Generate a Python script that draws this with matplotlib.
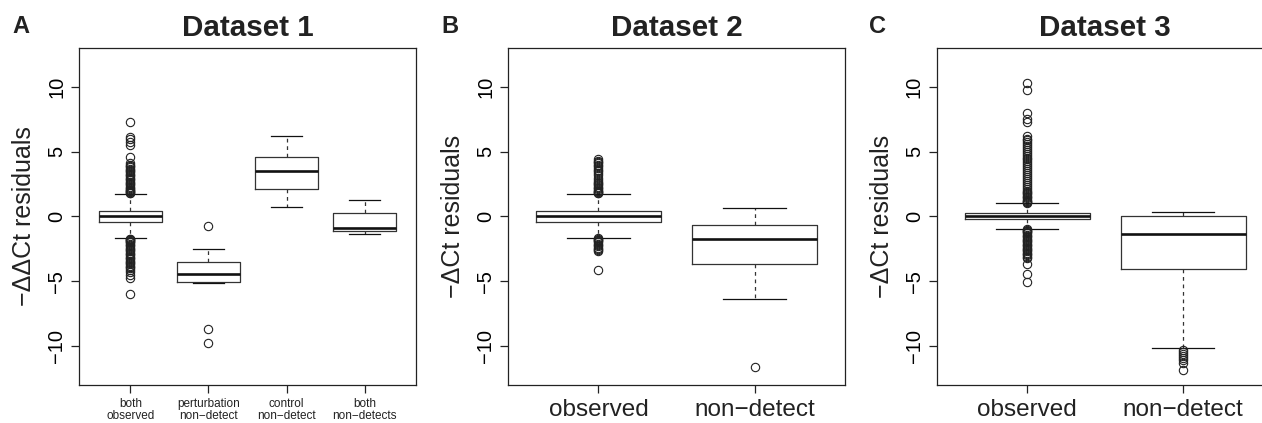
import matplotlib
matplotlib.use("Agg")
import matplotlib.pyplot as plt

plt.rcParams['font.family'] = ['Liberation Sans', 'DejaVu Sans']

# ---------------- data ----------------
titles = ["Dataset 1", "Dataset 2", "Dataset 3"]
panel_letters = ["A", "B", "C"]
ylabels = ["\u2212\u0394\u0394Ct residuals", "\u2212\u0394Ct residuals", "\u2212\u0394Ct residuals"]

cats_1 = ["both\nobserved", "perturbation\nnon\u2212detect", "control\nnon\u2212detect", "both\nnon\u2212detects"]
med_1 = [0.0, -4.44, 3.54, -0.87]
q1_1 = [-0.41, -5.05, 2.10, -1.13]
q3_1 = [0.46, -3.54, 4.62, 0.26]
wlo_1 = [-1.67, -5.10, 0.77, -1.33]
whi_1 = [1.77, -2.51, 6.18, 1.28]
fliers_1 = [
    [1.80, 1.85, 1.90, 1.95, 2.00, 2.05, 2.10, 2.20, 2.30, 2.40, 2.50, 2.60, 2.70, 2.80,
     2.90, 3.00, 3.10, 3.20, 3.30, 3.40, 3.50, 3.60, 3.70, 3.80, 3.90, 4.00, 4.15, 4.60,
     5.55, 5.75, 5.95, 6.10, 7.30,
     -1.70, -1.75, -1.80, -1.85, -1.90, -1.95, -2.00, -2.10, -2.20, -2.30, -2.40, -2.50,
     -2.60, -2.70, -2.80, -2.90, -3.00, -3.10, -3.20, -3.30, -3.40, -3.50, -3.60, -3.70,
     -3.80, -3.90, -4.00, -4.10, -4.30, -4.50, -4.75, -5.95],
    [-0.72, -8.67, -9.77],
    [],
    [],
]

cats_2 = ["observed", "non\u2212detect"]
med_2 = [0.0, -1.74]
q1_2 = [-0.41, -3.67]
q3_2 = [0.46, -0.69]
wlo_2 = [-1.64, -6.36]
whi_2 = [1.74, 0.62]
fliers_2 = [
    [1.78, 1.85, 1.90, 1.95, 2.00, 2.10, 2.20, 2.30, 2.40, 2.50, 2.60, 2.70, 2.85, 3.00,
     3.20, 3.35, 3.50, 3.60, 3.75, 3.90, 4.00, 4.10, 4.20, 4.30, 4.45,
     -1.68, -1.75, -1.80, -1.85, -1.90, -2.00, -2.10, -2.20, -2.30, -2.40, -2.50, -2.60,
     -2.70, -4.10],
    [-11.60],
]

cats_3 = ["observed", "non\u2212detect"]
med_3 = [0.0, -1.33]
q1_3 = [-0.20, -4.05]
q3_3 = [0.28, 0.0]
wlo_3 = [-0.97, -10.13]
whi_3 = [1.05, 0.38]
fliers_3 = [
    [1.05, 1.10, 1.15, 1.20, 1.30, 1.40, 1.50, 1.60, 1.70, 1.80, 1.90, 2.00, 2.15, 2.30,
     2.45, 2.60, 2.75, 2.90, 3.05, 3.20, 3.35, 3.50, 3.65, 3.80, 3.95, 4.10, 4.25, 4.40,
     4.55, 4.70, 4.85, 5.00, 5.15, 5.30, 5.45, 5.60, 5.75, 5.90, 6.00, 6.20, 7.30, 7.55,
     8.00, 9.75, 10.30,
     -1.00, -1.05, -1.10, -1.15, -1.20, -1.30, -1.40, -1.50, -1.60, -1.70, -1.80, -1.90,
     -2.00, -2.10, -2.20, -2.30, -2.40, -2.50, -2.60, -2.70, -2.80, -2.90, -3.00, -3.10,
     -3.20, -3.70, -4.40, -5.05],
    [-10.30, -10.45, -10.60, -10.75, -10.90, -11.10, -11.30, -11.85],
]

yticks = [-10, -5, 0, 5, 10]
ylim = (-13, 13)

panels = [
    (cats_1, med_1, q1_1, q3_1, wlo_1, whi_1, fliers_1, 8.5),
    (cats_2, med_2, q1_2, q3_2, wlo_2, whi_2, fliers_2, 17.5),
    (cats_3, med_3, q1_3, q3_3, wlo_3, whi_3, fliers_3, 17.5),
]

# ---------------- layout (pixels) ----------------
W, H = 1262, 423
fig = plt.figure(figsize=(W / 100, H / 100), dpi=100)
ax_left_px = [79, 508, 936.7]
ax_w_px = 337
ax_top_px, ax_bot_px = 48, 385
letter_x_px = [12, 441, 869]

line_col = '#222222'

for i, (cats, med, q1, q3, wlo, whi, fl, xfs) in enumerate(panels):
    l = ax_left_px[i] / W
    b = (H - ax_bot_px) / H
    ax = fig.add_axes([l, b, ax_w_px / W, (ax_bot_px - ax_top_px) / H])
    stats = []
    for j in range(len(cats)):
        stats.append(dict(med=med[j], q1=q1[j], q3=q3[j], whislo=wlo[j],
                          whishi=whi[j], fliers=fl[j], label=cats[j]))
    n = len(cats)
    ax.bxp(stats, positions=list(range(1, n + 1)), widths=0.8, capwidths=0.4,
           boxprops=dict(color='#333333', linewidth=0.9),
           medianprops=dict(color='#111111', linewidth=1.9),
           whiskerprops=dict(color='#333333', linewidth=0.9, linestyle=(0, (3, 3))),
           capprops=dict(color='#111111', linewidth=0.9),
           flierprops=dict(marker='o', markerfacecolor='none', markeredgecolor='#222222',
                           markersize=6, markeredgewidth=0.8, linestyle='none'))
    ax.set_xlim(0.5 - 0.04 * n, n + 0.5 + 0.04 * n)
    ax.set_ylim(*ylim)
    ax.set_yticks(yticks)
    ax.set_yticklabels([str(t) if t >= 0 else '\u2212' + str(-t) for t in yticks])
    for s in ax.spines.values():
        s.set_color(line_col)
        s.set_linewidth(0.9)
    ax.tick_params(axis='y', direction='out', length=5.5, width=0.9, color=line_col,
                   labelsize=14.5, labelrotation=90, pad=3.8)
    for lab in ax.get_yticklabels():
        lab.set_va('center')
    ax.tick_params(axis='x', direction='out', length=5.8, width=0.9, color=line_col,
                   labelsize=xfs, pad=3.6 if i == 0 else 4.4)
    for lab in ax.get_xticklabels():
        lab.set_linespacing(1.0)
        lab.set_color('#222222')

    cx = (ax_left_px[i] + ax_w_px / 2) / W
    fig.text(cx, (H - 36) / H, titles[i], fontsize=21.3, fontweight='bold',
             ha='center', va='baseline', color='#222222')
    fig.text(letter_x_px[i] / W, (H - 33.3) / H, panel_letters[i], fontsize=17,
             fontweight='bold', ha='left', va='baseline', color='#222222')
    fig.text((ax_left_px[i] - 47.5) / W, (H - 216.5) / H, ylabels[i], fontsize=18,
             rotation=90, rotation_mode='anchor', ha='center', va='baseline',
             color='#222222')

fig.savefig("out.png", dpi=100)
